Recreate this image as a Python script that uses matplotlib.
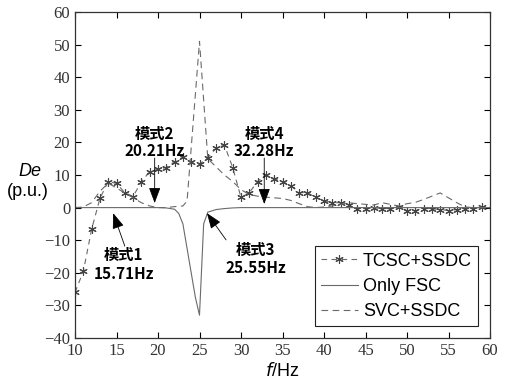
import numpy as np
import matplotlib
matplotlib.use('Agg')
import matplotlib.pyplot as plt

tcsc_f = list(range(10, 60))
tcsc_de = [-26.0, -19.6, -6.7, 2.8, 8.0, 7.4, 4.6, 3.4, 8.0, 11.0,
           11.8, 12.3, 14.1, 15.5, 13.9, 13.3, 15.3, 18.2, 19.2, 12.3,
           3.1, 4.6, 8.0, 10.1, 8.9, 8.0, 6.7, 4.6, 4.6, 3.1,
           2.1, 1.5, 1.5, 0.9, -0.3, -0.3, 0.0, -0.3, -0.3, 0.3,
           -0.9, -0.9, -0.3, -0.3, -0.6, -0.9, -0.6, -0.3, -0.3, 0.3]

# Only FSC
fsc_f = [10, 12, 14, 16, 18, 20, 21, 22, 22.5, 23, 23.5, 24, 24.5, 25,
         25.5, 26, 27, 28, 29, 30, 35, 40, 45, 50, 55, 60]
fsc_de = [0.0, 0.0, 0.0, 0.0, 0.0, 0.0, -0.1, -0.5, -1.8, -5.0, -12.5,
          -20.0, -27.5, -33.0, -5.0, -1.4, -0.6, -0.3, -0.1, 0.0, 0.0,
          0.0, 0.0, 0.0, 0.0, 0.0]

# SVC+SSDC
svc_f = [10, 11, 12, 13, 14, 15, 16, 17, 18, 19, 20, 21, 22, 23, 23.5,
         25, 26, 27, 28, 29, 30, 31, 32, 33, 34, 35, 36, 37, 38, 39,
         40, 41, 42, 43, 44, 45, 46, 47, 48, 49, 50, 51, 52, 53, 54,
         55, 56, 57, 58, 59, 60]
svc_de = [0.0, 0.2, 1.5, 5.0, 7.5, 6.0, 4.5, 3.0, 1.5, 0.5, 0.0, 0.0,
          0.3, 0.5, 2.0, 51.0, 15.0, 12.5, 10.0, 8.0, 5.5, 4.0, 3.5,
          3.2, 3.0, 2.8, 2.2, 1.2, 0.3, 0.0, 0.2, 0.5, 1.0, 1.5, 1.2,
          1.0, 0.8, 1.5, 1.0, 0.5, 1.2, 1.6, 2.5, 3.5, 4.5, 3.0, 1.5,
          0.2, 0.0, 0.0, 0.0]

# mode annotations: (label, freq text, text pos, arrow tail, arrow tip)
modes = [
    ('模式1', '15.71Hz', (15.8, -14.5), (15.9, -20.4), (16.0, -11.8), (14.6, -1.7)),
    ('模式2', '20.21Hz', (19.6, 22.6), (19.6, 17.4), (19.6, 15.2), (19.6, 1.4)),
    ('模式3', '25.55Hz', (31.7, -13.0), (31.8, -18.5), (28.2, -9.9), (25.9, -1.7)),
    ('模式4', '32.28Hz', (32.8, 22.6), (32.8, 17.4), (32.8, 15.2), (32.8, 1.1)),
]

fig = plt.figure(figsize=(5.05, 3.81), dpi=100)
ax = fig.add_axes([75 / 505, 1 - 338 / 381, 415 / 505, 326 / 381])

line_col = '#6a6a6a'
ax.plot(tcsc_f, tcsc_de, color=line_col, lw=0.8, ls=(0, (5, 4)),
        marker=(6, 2, 0), markersize=6, markeredgewidth=0.8,
        markeredgecolor='#444444', label='TCSC+SSDC')
ax.plot(fsc_f, fsc_de, color=line_col, lw=0.8, ls='-', label='Only FSC')
ax.plot(svc_f, svc_de, color=line_col, lw=0.8, ls=(0, (6, 4)), label='SVC+SSDC')

cjk = ['Noto Sans CJK JP', 'DejaVu Sans']
for name, freq, p1, p2, tail, tip in modes:
    ax.text(p1[0], p1[1], name, ha='center', va='center', fontsize=11,
            family=cjk, fontweight='bold')
    ax.text(p2[0], p2[1], freq, ha='center', va='center', fontsize=11,
            family=cjk, fontweight='bold')
    ax.annotate('', xy=tip, xytext=tail,
                arrowprops=dict(arrowstyle='-|>,head_length=0.8,head_width=0.3',
                                color='black', lw=0.6, mutation_scale=12,
                                shrinkA=0, shrinkB=0))

ax.set_xlim(10, 60)
ax.set_ylim(-40, 60)
ax.set_xticks(np.arange(10, 61, 5))
ax.set_yticks(np.arange(-40, 61, 10))
ax.tick_params(direction='in', length=4, top=True, right=True,
               labelsize=12, labelcolor='#333333', width=0.8)
for lab in ax.get_xticklabels() + ax.get_yticklabels():
    lab.set_family('Liberation Serif')
for s in ax.spines.values():
    s.set_linewidth(0.9)
    s.set_color('#333333')

ax.set_xlabel('$\\it{f}$/Hz', fontsize=13, family='Liberation Sans', labelpad=2)
fig.text(30 / 505, 1 - 172 / 381, 'De', fontsize=13, style='italic',
         family='Liberation Sans', ha='center', va='center')
fig.text(28 / 505, 1 - 191 / 381, '(p.u.)', fontsize=13,
         family='Liberation Sans', ha='center', va='center')

leg = ax.legend(loc='lower right', fontsize=13, frameon=True, fancybox=False,
                edgecolor='#222222', framealpha=1, borderpad=0.35,
                labelspacing=0.45, handlelength=2.0, handletextpad=0.3,
                borderaxespad=0.65, prop={'family': 'Liberation Sans', 'size': 13})
leg.get_frame().set_linewidth(0.8)

fig.savefig('out.png', dpi=100)
